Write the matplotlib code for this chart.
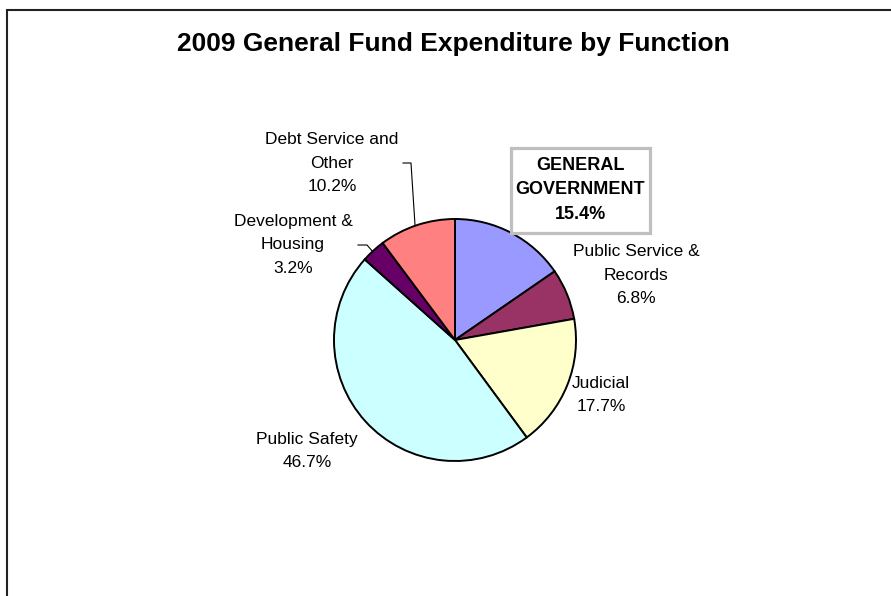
import matplotlib.pyplot as plt
from matplotlib.patches import Rectangle

plt.rcParams['font.family'] = ['Liberation Sans', 'DejaVu Sans']

# expenditure shares, clockwise from 12 o'clock
functions = ['GENERAL\nGOVERNMENT', 'Public Service &\nRecords', 'Judicial',
             'Public Safety', 'Development &\nHousing', 'Debt Service and\nOther']
shares = [15.4, 6.8, 17.7, 46.7, 3.2, 10.2]
colors = ['#9999FF', '#993366', '#FFFFCC', '#CCFFFF', '#660066', '#FF8080']

W, H = 891, 596
fig = plt.figure(figsize=(W / 100, H / 100), dpi=100)
ax = fig.add_axes([0, 0, 1, 1])

# outer chart border (runs off the right and bottom)
fig.patches.append(Rectangle((7 / W, -0.1), 1.0, (H - 10) / H + 0.1,
                             transform=fig.transFigure, fill=False,
                             edgecolor='#222222', linewidth=1.5))

cx, cy, r = 455, H - 340, 121
ax.pie(shares, colors=colors, startangle=90, counterclock=False,
       center=(cx, cy), radius=r,
       wedgeprops=dict(edgecolor='black', linewidth=1.4))
ax.set_xlim(0, W)
ax.set_ylim(0, H)
ax.set_aspect('equal')
ax.axis('off')

ax.text(453, H - 44, '2009 General Fund Expenditure by Function',
        ha='center', va='center', fontsize=19, fontweight='bold')

# label centres (x, y) in pixel space, y from top
label_pos = [(580, 190), (636, 275), (601, 395), (307, 451), (293, 245), (332, 163)]
for name, v, (x, y) in zip(functions, shares, label_pos):
    txt = f'{name}\n{v:.1f}%'
    if name.startswith('GENERAL'):
        ax.add_patch(Rectangle((511, H - 233), 139, 85, facecolor='white',
                               edgecolor='#BFBFBF', linewidth=2.3, zorder=3))
        ax.text(x, H - y, txt, ha='center', va='center', fontsize=13,
                fontweight='bold', linespacing=1.55, zorder=4)
    else:
        ax.text(x, H - y, txt, ha='center', va='center', fontsize=12.5,
                linespacing=1.7)

# leader lines
ax.plot([403, 411, 415], [H - 163, H - 163, H - 225], color='black', lw=0.8)
ax.plot([358, 367, 373], [H - 245, H - 245, H - 252], color='black', lw=0.8)

fig.savefig('out.png', dpi=100)
